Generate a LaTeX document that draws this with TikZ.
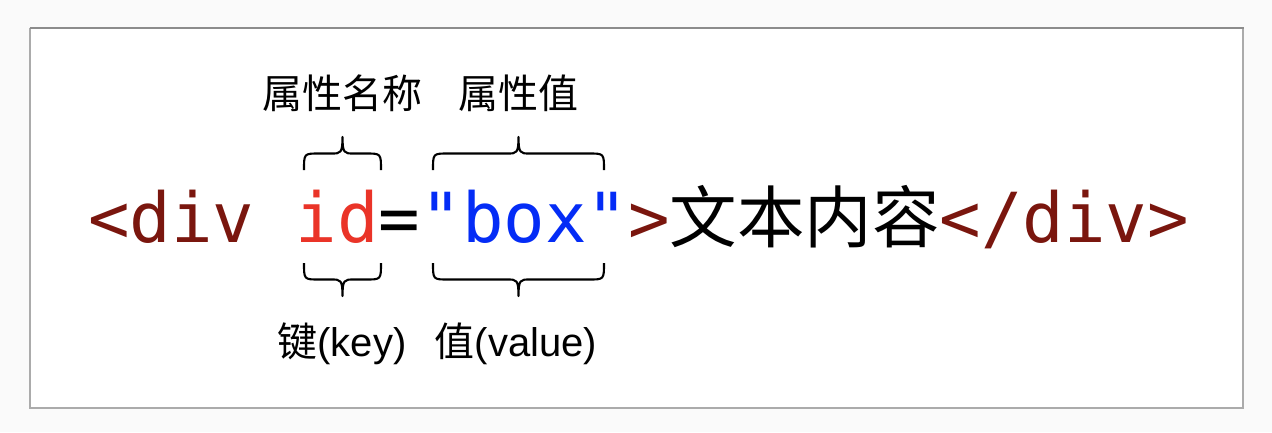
\documentclass[tikz,border=0pt]{standalone}
\usepackage{fontspec}
\setmainfont{Liberation Sans}
\setmonofont{DejaVu Sans Mono}
\newfontfamily\cjk{Noto Sans CJK SC}
\definecolor{bgc}{HTML}{FAFAFA}
\definecolor{tagred}{RGB}{122,22,14}
\definecolor{keyred}{RGB}{234,52,40}
\definecolor{valblue}{RGB}{4,44,246}
\definecolor{frametop}{HTML}{8C8C8C}
\definecolor{frameside}{HTML}{ABABAB}
\tikzset{
  bracestyle/.style={line width=2.1pt, black, line cap=butt, line join=round},
  lbl/.style={inner sep=0pt, font=\fontsize{40}{44}\selectfont},
}
\newcommand{\cbrace}[4]{% x1 x2 yend ytip
  \pgfmathsetmacro\xm{(#1+#2)/2}
  \pgfmathsetmacro\ymid{(#3+#4)/2}
  \draw[bracestyle] (#1,#3) .. controls (#1,\ymid) and (#1,\ymid) .. (#1+15,\ymid)
    -- (\xm-11,\ymid) .. controls (\xm-2,\ymid) and (\xm,\ymid) .. (\xm,#4)
    .. controls (\xm,\ymid) and (\xm+2,\ymid) .. (\xm+11,\ymid)
    -- (#2-15,\ymid) .. controls (#2,\ymid) and (#2,\ymid) .. (#2,#3);
}
\begin{document}
\begin{tikzpicture}[x=1pt,y=-1pt]
  \fill[bgc] (0,0) rectangle (1272,432);
  \useasboundingbox (0,0) rectangle (1272,432);
  \fill[white] (30,28) rectangle (1243,408);
  \draw[frameside, line width=1.5pt] (30,28) -- (30,408) -- (1243,408) -- (1243,28);
  \draw[frametop, line width=2pt] (29.5,28) -- (1243.5,28);
  % code line
  \node[anchor=base west, inner sep=0pt, font=\fontsize{69}{80}\selectfont\ttfamily] (code) at (88,242)
    {\textcolor{tagred}{<div }\textcolor{keyred}{id}\textcolor{black}{=}\textcolor{valblue}{"box"}\textcolor{tagred}{>}{\cjk\fontsize{67.5}{80}\selectfont 文本内容}\textcolor{tagred}{</div>}};
  % top labels
  \node[lbl] (attrname) at (342,93) {\cjk 属性名称};
  \node[lbl] (attrval) at (518,93) {\cjk 属性值};
  % bottom labels
  \node[lbl, anchor=base] (keylbl) at (342,356) {{\cjk 键}(key)};
  \node[lbl, anchor=base] (vallbl) at (516,356) {{\cjk 值}(value)};
  % braces
  \cbrace{304}{381}{170}{137}
  \cbrace{433}{604}{170}{137}
  \cbrace{304}{381}{263}{296}
  \cbrace{433}{604}{263}{296}
\end{tikzpicture}
\end{document}
